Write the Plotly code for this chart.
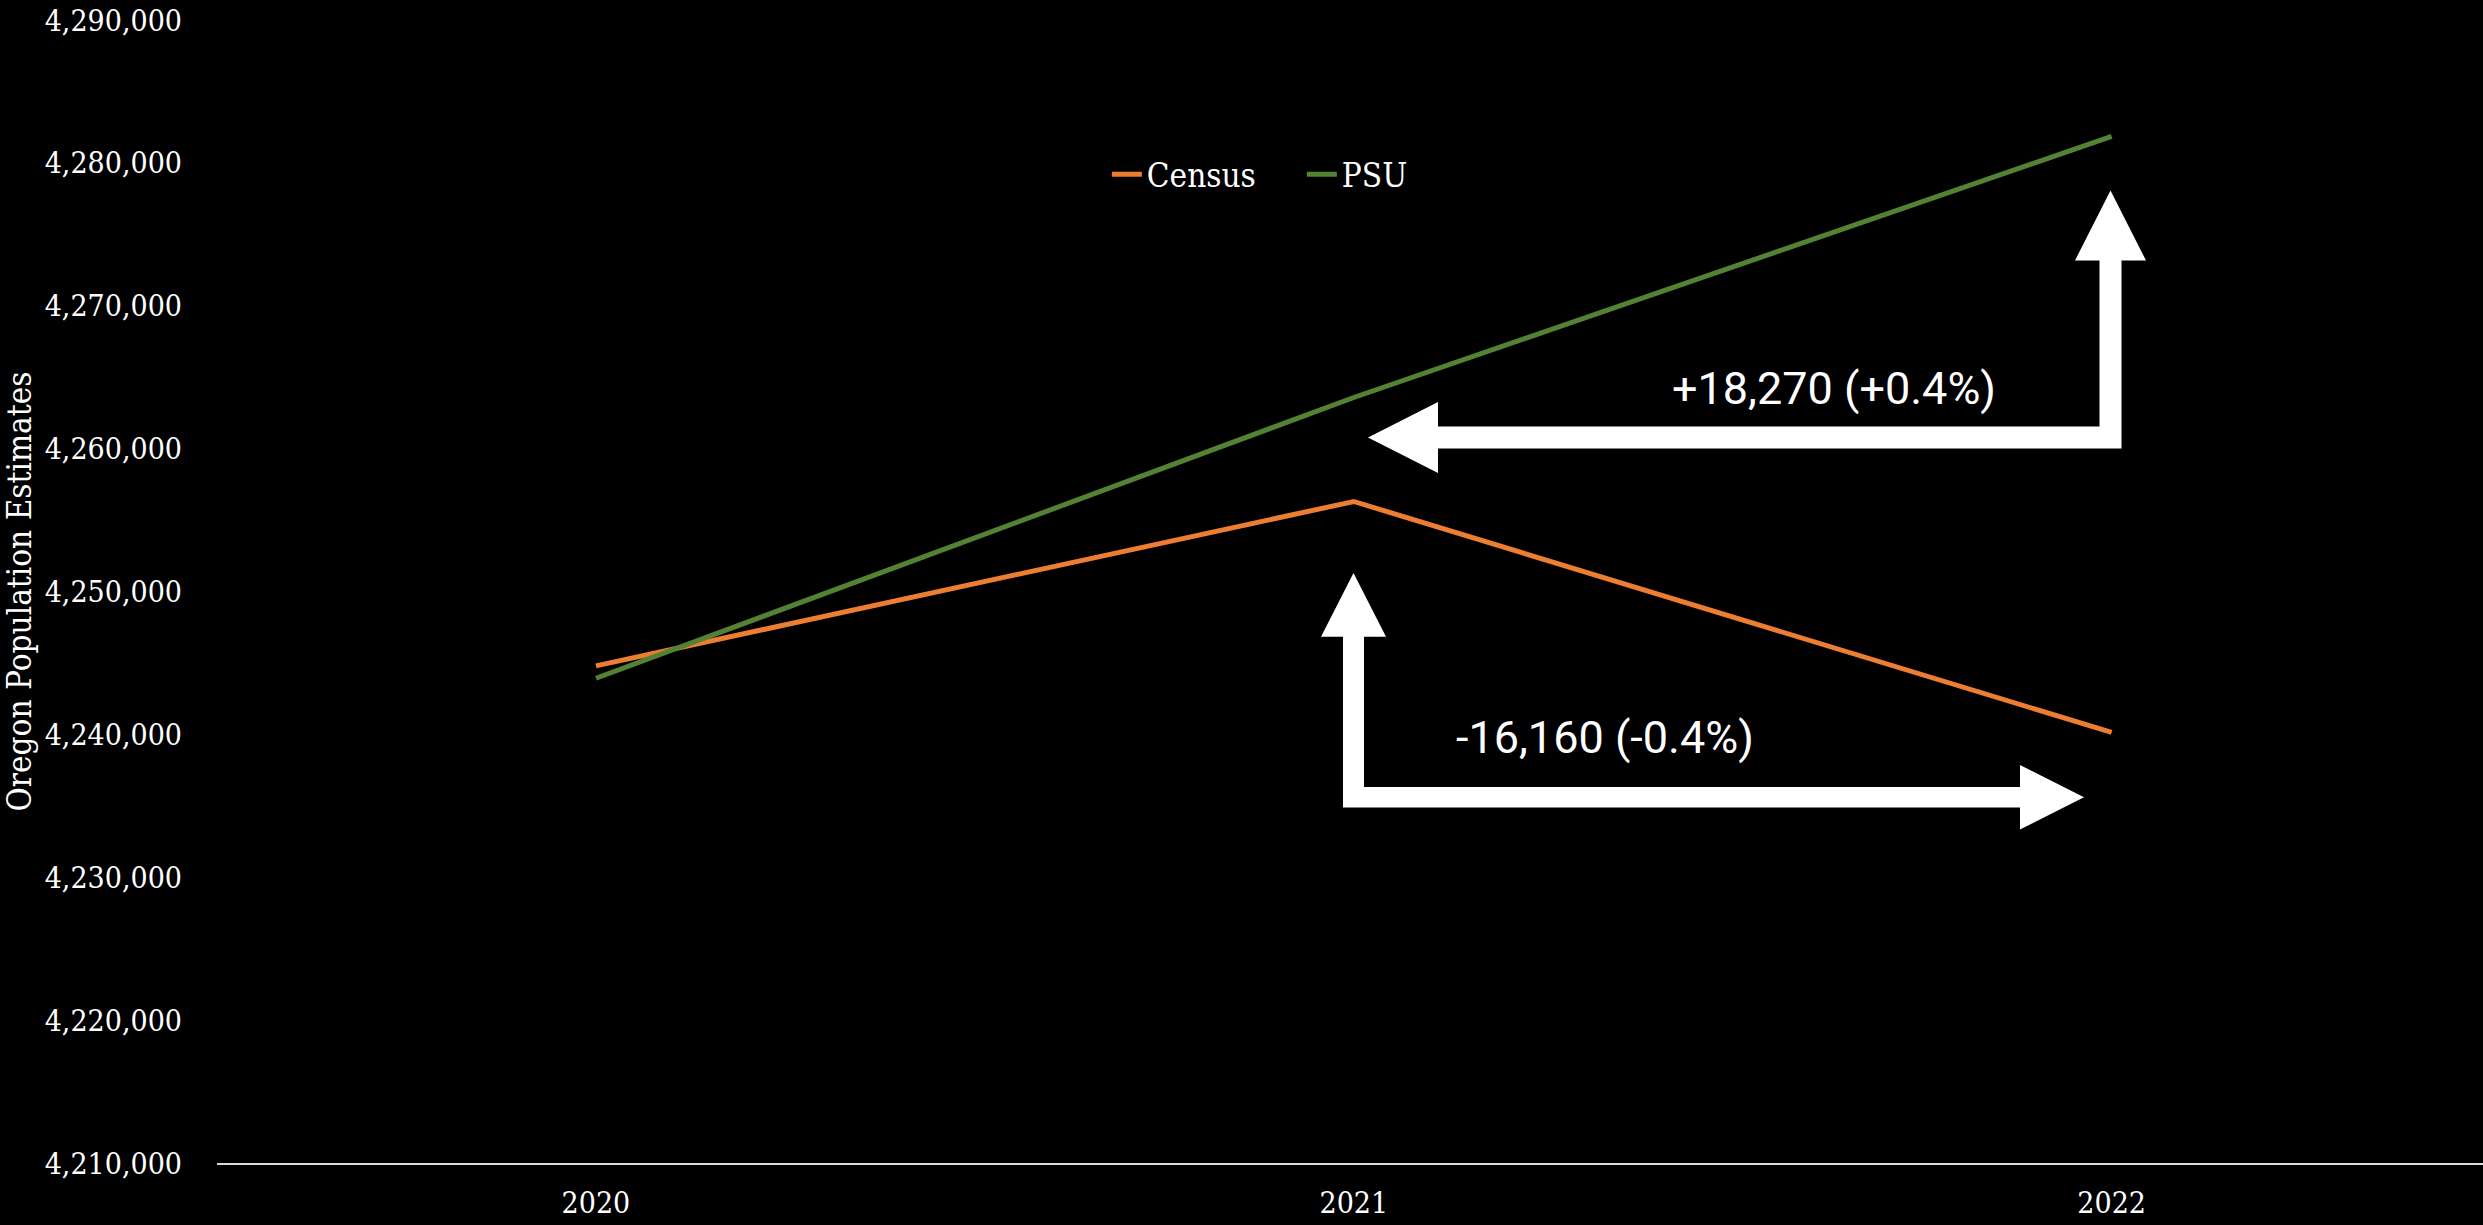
import plotly.graph_objects as go

# ---- data ----
years = [2020, 2021, 2022]
census = [4244795, 4256301, 4240137]
psu = [4243930, 4263580, 4281850]
y_ticks = [4210000, 4220000, 4230000, 4240000, 4250000, 4260000, 4270000, 4280000, 4290000]
label_psu_change = "+18,270 (+0.4%)"
label_census_change = "-16,160 (-0.4%)"

# ---- layout geometry ----
FIG_W, FIG_H = 2483, 1225
M_L, M_R, M_T, M_B = 217, 0, 20, 62
X_RANGE = [2019.5, 2022.49]
Y_RANGE = [4210000, 4290000]
PLOT_W = FIG_W - M_L - M_R
PLOT_H = FIG_H - M_T - M_B

SERIF = "DejaVu Serif Condensed, DejaVu Serif, serif"
ORANGE = "#ED7D31"
GREEN = "#548235"


def px_to_x(px):
    return X_RANGE[0] + (px - M_L) / PLOT_W * (X_RANGE[1] - X_RANGE[0])


def py_to_y(py):
    return Y_RANGE[0] + (M_T + PLOT_H - py) / PLOT_H * (Y_RANGE[1] - Y_RANGE[0])


def path_from_px(points):
    pts = [(px_to_x(a), py_to_y(b)) for a, b in points]
    return "M " + " L ".join(f"{x:.6f},{y:.3f}" for x, y in pts) + " Z"


# arrow outlines (pixel geometry of the callout arrows)
arrow_up_left = [
    (2110.5, 190.5), (2146, 260.5), (2121.5, 260.5), (2121.5, 448.5),
    (1438, 448.5), (1438, 473), (1368, 437.5), (1438, 402), (1438, 426.5),
    (2099.5, 426.5), (2099.5, 260.5), (2075, 260.5),
]
arrow_up_right = [
    (1353.5, 573), (1386, 636.7), (1364, 636.7), (1364, 787),
    (2020, 787), (2020, 765), (2084, 797.25), (2020, 829.5), (2020, 807.5),
    (1343, 807.5), (1343, 636.7), (1321, 636.7),
]

fig = go.Figure()
fig.add_trace(go.Scatter(x=years, y=census, mode="lines", name="Census",
                         line=dict(color=ORANGE, width=5)))
fig.add_trace(go.Scatter(x=years, y=psu, mode="lines", name="PSU",
                         line=dict(color=GREEN, width=5)))

for pts in (arrow_up_left, arrow_up_right):
    fig.add_shape(type="path", path=path_from_px(pts), xref="x", yref="y",
                  fillcolor="white", line=dict(width=0), layer="above")

fig.add_annotation(x=px_to_x(1834), y=py_to_y(388), xref="x", yref="y",
                   text=label_psu_change, showarrow=False,
                   font=dict(family="Roboto", size=45, color="white"))
fig.add_annotation(x=px_to_x(1605), y=py_to_y(737), xref="x", yref="y",
                   text=label_census_change, showarrow=False,
                   font=dict(family="Roboto", size=45, color="white"))

fig.update_layout(
    width=FIG_W, height=FIG_H,
    margin=dict(l=M_L, r=M_R, t=M_T, b=M_B, autoexpand=False),
    paper_bgcolor="black", plot_bgcolor="black",
    font=dict(family=SERIF, size=30, color="white"),
    showlegend=True,
    legend=dict(orientation="h", x=0.3927, y=0.865, xanchor="left", yanchor="middle",
                bgcolor="rgba(0,0,0,0)", font=dict(family=SERIF, size=33, color="white"),
                itemwidth=30, tracegroupgap=0, entrywidth=150),
    xaxis=dict(range=X_RANGE, tickvals=years, ticktext=[str(y) for y in years],
               showgrid=False, zeroline=False, showline=True, linecolor="#D9D9D9",
               linewidth=2, ticks="", ticklabelstandoff=12,
               tickfont=dict(family=SERIF, size=30, color="white"), fixedrange=True),
    yaxis=dict(range=Y_RANGE, tickvals=y_ticks, tickformat=",d",
               showgrid=False, zeroline=False, showline=False, ticks="",
               ticklabelstandoff=34,
               tickfont=dict(family=SERIF, size=30, color="white"),
               title=dict(text="Oregon Population Estimates", standoff=6,
                          font=dict(family=SERIF, size=33, color="white")),
               fixedrange=True),
)

fig.write_html("out.html", config={"displayModeBar": False},
               post_script="document.body.style.margin='0';document.body.style.overflow='hidden';document.body.style.background='black';")
